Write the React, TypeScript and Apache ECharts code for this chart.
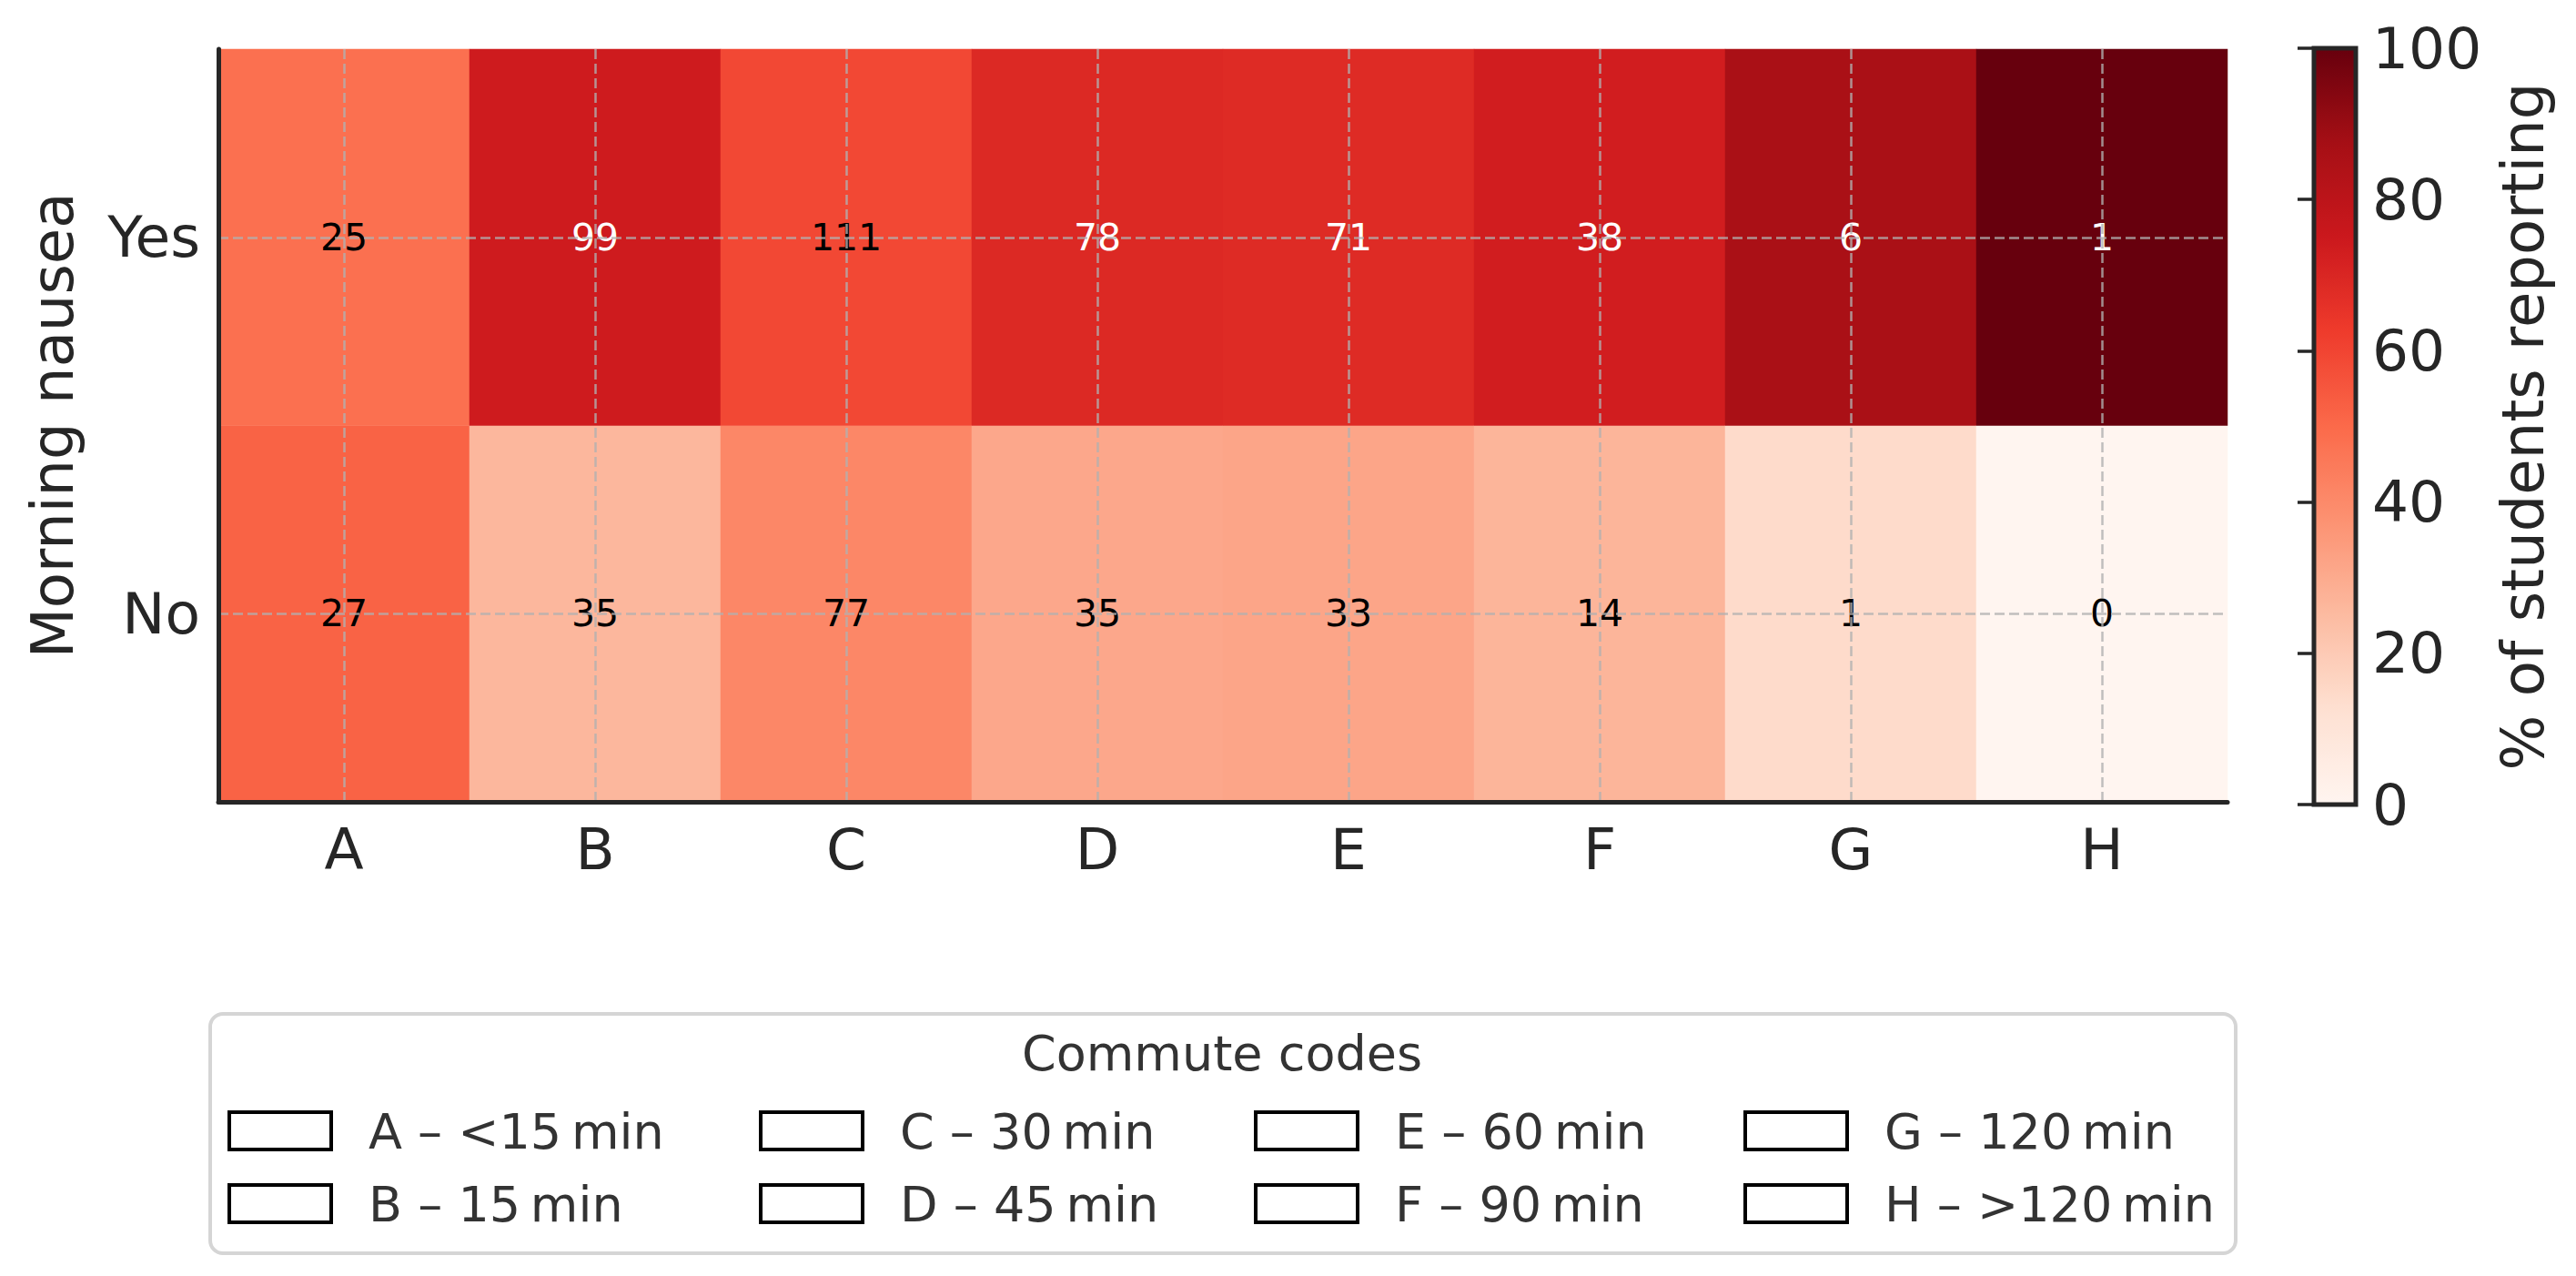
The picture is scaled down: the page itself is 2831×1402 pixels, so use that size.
import { useRef, useEffect } from "react";
import * as echarts from "echarts";

const codes = ["A", "B", "C", "D", "E", "F", "G", "H"];
const answers = ["No", "Yes"];
const yesCounts = [25, 99, 111, 78, 71, 38, 6, 1];
const noCounts = [27, 35, 77, 35, 33, 14, 1, 0];
const legendLabels = [
  "A – <15\u2009min",
  "B – 15\u2009min",
  "C – 30\u2009min",
  "D – 45\u2009min",
  "E – 60\u2009min",
  "F – 90\u2009min",
  "G – 120\u2009min",
  "H – >120\u2009min",
];
const reds = [
  "#fff5f0",
  "#fee0d2",
  "#fcbba1",
  "#fc9272",
  "#fb6a4a",
  "#ef3b2c",
  "#cb181d",
  "#a50f15",
  "#67000d",
];

const FONT = "DejaVu Sans";
const INK = "#262626";

const App = () => {
  const chartRef = useRef<HTMLDivElement>(null);

  useEffect(() => {
    document.body.style.margin = "0";
    if (!chartRef.current) return;
    const chart = echarts.init(chartRef.current, null, { renderer: "svg" });

    // heatmap cells: [col, row, % of column, count]
    const cells: any[] = [];
    codes.forEach((_, i) => {
      const total = yesCounts[i] + noCounts[i];
      const rowsData = [noCounts[i], yesCounts[i]];
      rowsData.forEach((count, j) => {
        const pct = total ? (count / total) * 100 : 0;
        cells.push({
          value: [i, j, pct, count],
          label: { color: pct > 62 ? "#ffffff" : "#000000" },
        });
      });
    });

    // legend built from graphic elements (column-major like matplotlib)
    const colX = [252, 836, 1380, 1918];
    const rowY = [1222, 1302];
    const legendItems: any[] = [
      {
        type: "rect",
        shape: { x: 231, y: 1114, width: 2226, height: 263, r: 14 },
        style: { fill: "#ffffff", stroke: "#d5d5d5", lineWidth: 4 },
      },
      {
        type: "text",
        x: 1343,
        y: 1157,
        style: {
          text: "Commute codes",
          font: `54px "${FONT}"`,
          fill: "#333333",
          align: "center",
          verticalAlign: "middle",
        },
      },
      // colorbar frame
      {
        type: "rect",
        z: 100,
        shape: { x: 2543, y: 53, width: 46, height: 831 },
        style: { fill: "none", stroke: INK, lineWidth: 5 },
      },
    ];
    legendLabels.forEach((label, k) => {
      const cx = colX[Math.floor(k / 2)];
      const cy = rowY[k % 2];
      legendItems.push({
        type: "rect",
        shape: { x: cx, y: cy, width: 112, height: 41 },
        style: { fill: "#ffffff", stroke: "#000000", lineWidth: 4 },
      });
      legendItems.push({
        type: "text",
        x: cx + 153,
        y: cy + 21,
        style: {
          text: label,
          font: `54px "${FONT}"`,
          fill: "#333333",
          align: "left",
          verticalAlign: "middle",
        },
      });
    });

    const gridLine = {
      show: true,
      showMinLine: false,
      showMaxLine: false,
      lineStyle: {
        color: "rgba(176,176,176,0.8)",
        width: 2.5,
        type: [11, 5],
      },
    };

    const tick = {
      alignWithLabel: true,
      inside: true,
      length: 18,
      lineStyle: { color: INK, width: 3.5 },
    };

    const option: any = {
      animation: false,
      textStyle: { fontFamily: FONT },
      grid: [
        { left: 240, right: 383, top: 54, bottom: 521 },
        { left: 2543, top: 53, width: 46, height: 831, show: false },
      ],
      xAxis: [
        {
          type: "category",
          gridIndex: 0,
          data: codes,
          z: 6,
          axisLine: { onZero: false, lineStyle: { color: INK, width: 5 } },
          axisTick: tick,
          axisLabel: { fontSize: 63, color: INK, margin: 21 },
          splitLine: { show: false },
        },
        {
          type: "value",
          gridIndex: 0,
          min: -0.5,
          max: 7.5,
          splitNumber: 8,
          position: "top",
          z: 5,
          axisLine: { show: false, onZero: false },
          axisTick: { show: false },
          axisLabel: { show: false },
          splitLine: gridLine,
        },
        { type: "value", gridIndex: 1, show: false },
      ],
      yAxis: [
        {
          type: "category",
          gridIndex: 0,
          data: answers,
          z: 6,
          axisLine: { onZero: false, lineStyle: { color: INK, width: 5 } },
          axisTick: tick,
          axisLabel: { fontSize: 63, color: INK, margin: 20 },
          splitLine: { show: false },
          name: "Morning nausea",
          nameLocation: "middle",
          nameRotate: 90,
          nameGap: 150,
          nameTextStyle: { fontSize: 64, color: INK },
        },
        {
          type: "value",
          gridIndex: 0,
          min: -0.5,
          max: 1.5,
          splitNumber: 2,
          position: "right",
          z: 5,
          axisLine: { show: false, onZero: false },
          axisTick: { show: false },
          axisLabel: { show: false },
          splitLine: gridLine,
        },
        {
          type: "value",
          gridIndex: 1,
          min: 0,
          max: 100,
          interval: 20,
          position: "right",
          z: 10,
          axisLine: { show: false },
          axisTick: {
            show: true,
            inside: true,
            length: 18,
            lineStyle: { color: INK, width: 3.5 },
          },
          axisLabel: { fontSize: 63, color: INK, margin: 18 },
          splitLine: { show: false },
          name: "% of students reporting",
          nameLocation: "middle",
          nameRotate: 90,
          nameGap: 152,
          nameTextStyle: { fontSize: 64, color: INK },
        },
      ],
      visualMap: {
        type: "continuous",
        seriesIndex: 0,
        dimension: 2,
        min: 0,
        max: 100,
        calculable: false,
        orient: "vertical",
        left: 2543,
        top: 53,
        itemWidth: 46,
        itemHeight: 831,
        padding: 0,
        inRange: { color: reds },
        hoverLink: false,
      },
      series: [
        {
          type: "heatmap",
          xAxisIndex: 0,
          yAxisIndex: 0,
          data: cells,
          label: {
            show: true,
            fontSize: 41,
            fontFamily: FONT,
            formatter: (p: any) => String(p.value[3]),
          },
          itemStyle: { borderWidth: 0 },
          emphasis: { disabled: true },
        },
      ],
      graphic: legendItems,
    };

    chart.setOption(option);

    return () => {
      chart.dispose();
    };
  }, []);

  return <div ref={chartRef} style={{ width: 2831, height: 1402 }}></div>;
};

export default App;
